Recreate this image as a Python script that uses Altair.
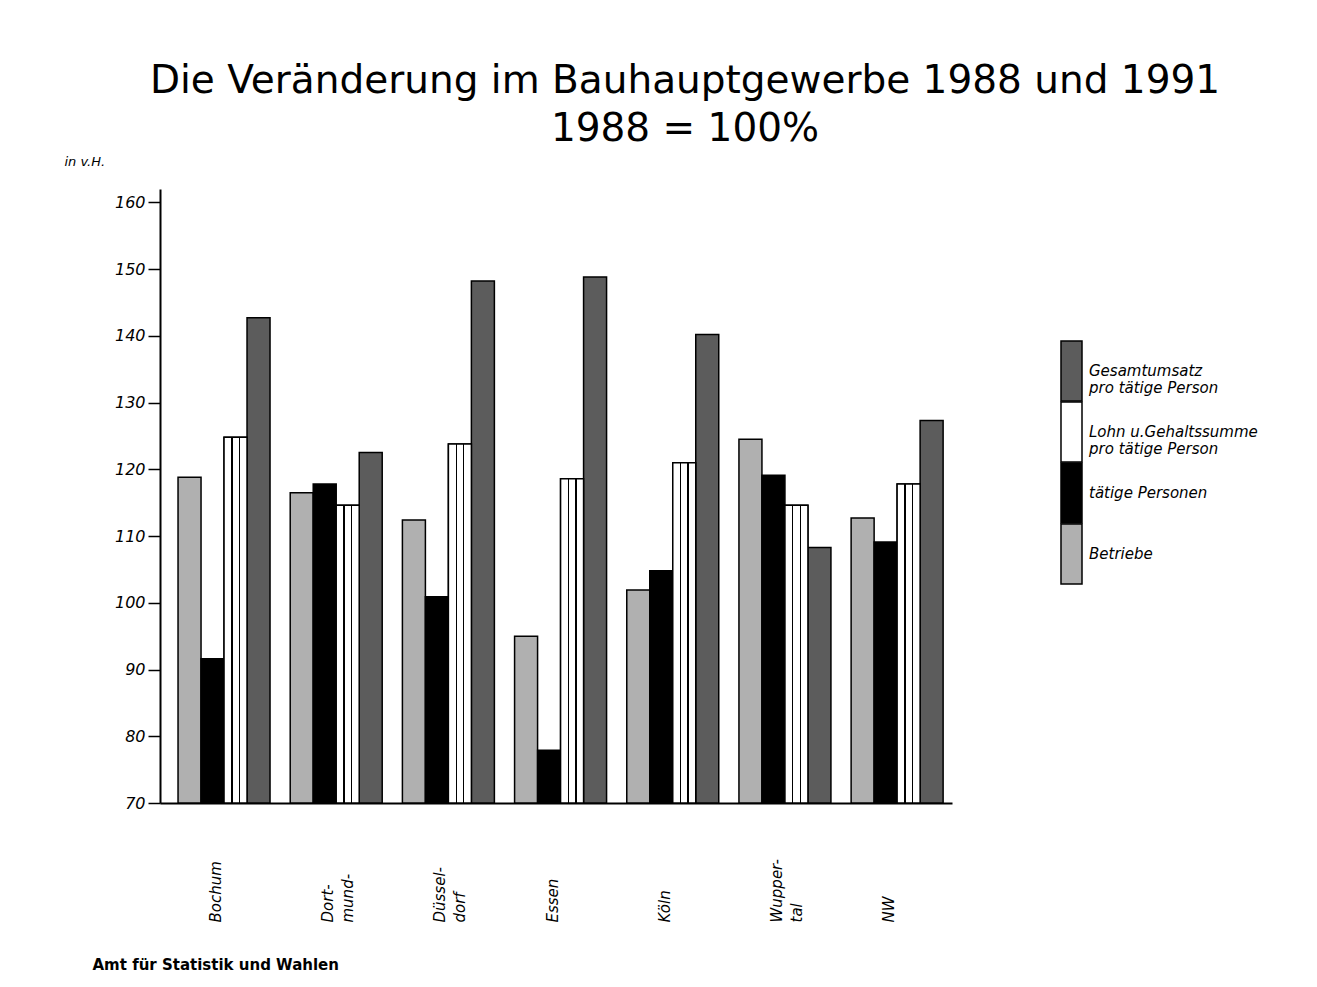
import altair as alt
import pandas as pd

cities = ["Bochum", "Dort-|mund-", "Düssel-|dorf", "Essen", "Köln", "Wupper-|tal", "NW"]
series = [
    "Betriebe",
    "tätige Personen",
    "Lohn u.Gehaltssumme|pro tätige Person",
    "Gesamtumsatz|pro tätige Person",
]
betriebe = [118.8, 116.5, 112.4, 95.0, 101.9, 124.5, 112.7]
taetige = [91.6, 117.8, 100.9, 77.9, 104.8, 119.1, 109.1]
lohn = [124.8, 114.6, 123.8, 118.6, 121.0, 114.6, 117.8]
gesamt = [142.7, 122.5, 148.2, 148.8, 140.2, 108.3, 127.3]
y_ticks = list(range(70, 161, 5))

rows = []
for vals, s in zip([betriebe, taetige, lohn, gesamt], series):
    for c, v in zip(cities, vals):
        rows.append({"city": c, "series": s, "value": v})
df = pd.DataFrame(rows)

FONT = "DejaVu Sans"

x_enc = alt.X(
    "city:N",
    sort=cities,
    scale=alt.Scale(paddingInner=0.18, paddingOuter=0.12, align=0.67),
    axis=alt.Axis(
        title="Amt für Statistik und Wahlen",
        titleX=-68, titleY=166, titleAngle=0, titleAlign="left",
        titleBaseline="alphabetic", titleFontSize=15, titleFontWeight="bold",
        titleFont=FONT, titleColor="black",
        labelAngle=-90, labelAlign="left", labelBaseline="middle",
        labelPadding=119, labelOffset=-8, ticks=False,
        labelExpr="split(datum.label, '|')", labelLineHeight=20,
        labelFontSize=15, labelFontStyle="italic", labelFont=FONT,
        labelColor="black", domainColor="black", domainWidth=2,
    ),
)
xoff = alt.XOffset("series:N", sort=series,
                   scale=alt.Scale(domain=series, paddingInner=0, paddingOuter=0))
y_enc = alt.Y(
    "value:Q",
    scale=alt.Scale(domain=[70, 162], zero=False, nice=False),
    axis=alt.Axis(
        values=y_ticks,
        labelExpr="datum.value % 10 == 0 ? datum.label : ''",
        tickSize={"condition": {"test": "datum.value % 10 === 0", "value": 12}, "value": 6},
        tickColor="black", tickWidth=1.5, domainColor="black", domainWidth=2,
        labelFontSize=16, labelFontStyle="italic", labelFont=FONT, labelColor="black",
        labelPadding=3, grid=False,
        title="in v.H.", titleAngle=0, titleX=-96, titleY=-24, titleAlign="left",
        titleBaseline="alphabetic", titleFontSize=13, titleFontStyle="italic",
        titleFontWeight="normal", titleFont=FONT, titleColor="black",
    ),
)

base = alt.Chart(df)

bars = base.mark_bar(stroke="black", strokeWidth=1.5).encode(
    x=x_enc,
    xOffset=xoff,
    y=y_enc,
    y2=alt.datum(70),
    color=alt.Color(
        "series:N",
        scale=alt.Scale(domain=series, range=["#b0b0b0", "#000000", "#ffffff", "#5c5c5c"]),
        legend=alt.Legend(
            orient="none", legendX=867, legendY=154, title=None,
            values=[series[3], series[2], series[1], series[0]],
            symbolType="M0.222,-1.111H1V1.111H0.222Z", symbolSize=2916,
            symbolStrokeColor="black", symbolStrokeWidth=1.5, symbolOpacity=1,
            rowPadding=alt.ExprRef("-6"), padding=0, labelOffset=6, labelLimit=400,
            labelExpr="split(datum.label, '|')",
            labelFontSize=15, labelFontStyle="italic", labelFont=FONT, labelColor="black",
        ),
    ),
)

stripes = alt.LinearGradient(
    gradient="linear", x1=0, x2=1, y1=0, y2=0,
    stops=[
        alt.GradientStop(offset=0, color="white"),
        alt.GradientStop(offset=0.31, color="white"),
        alt.GradientStop(offset=0.31, color="black"),
        alt.GradientStop(offset=0.37, color="black"),
        alt.GradientStop(offset=0.37, color="white"),
        alt.GradientStop(offset=0.64, color="white"),
        alt.GradientStop(offset=0.64, color="black"),
        alt.GradientStop(offset=0.70, color="black"),
        alt.GradientStop(offset=0.70, color="white"),
        alt.GradientStop(offset=1, color="white"),
    ],
)
lohn_layer = base.transform_filter(
    alt.datum.series == series[2]
).mark_bar(fill=stripes, stroke="black", strokeWidth=1.5).encode(
    x=alt.X("city:N", sort=cities),
    xOffset=alt.XOffset("series:N", sort=series),
    y=alt.Y("value:Q"),
    y2=alt.datum(70),
)

chart = alt.layer(bars, lohn_layer).properties(
    width=792,
    height=614,
    autosize=alt.AutoSizeParams(type="none"),
    padding={"left": 152, "top": 181, "right": 356, "bottom": 174},
    background="white",
    title=alt.TitleParams(
        text=["Die Veränderung im Bauhauptgewerbe 1988 und 1991", "1988 = 100%"],
        fontSize=39, font=FONT, fontWeight="normal", color="black",
        anchor="middle", frame="group", dx=129, offset=6, lineHeight=48,
    ),
).configure_view(stroke=None)

chart.save("out.html", embed_options={"renderer": "svg", "actions": False})
